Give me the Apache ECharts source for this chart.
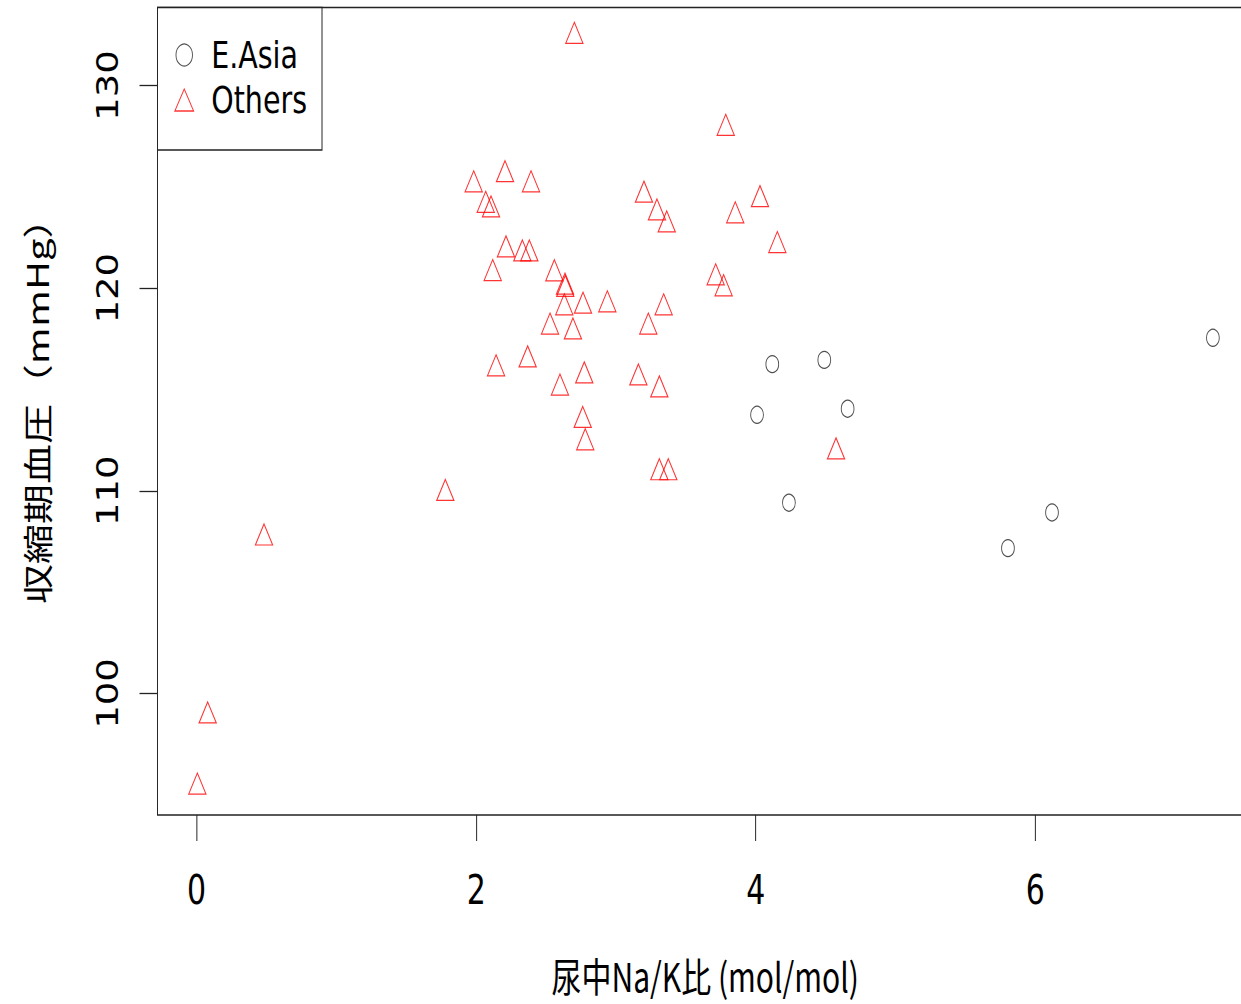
<!DOCTYPE html>
<html>
<head>
<meta charset="utf-8">
<script src="https://cdn.jsdelivr.net/npm/echarts@6/dist/echarts.min.js"></script>
<style>
html, body { margin: 0; padding: 0; overflow: hidden; background: #fff; }
/* 元の図は横に約0.75倍に縮んでいるので、広く描いてから縮める。右端は窓の外に出る */
#chart { width: 1680px; height: 1004px; transform: scaleX(0.75); transform-origin: 0 0; }
</style>
</head>
<body>
<div id="chart"></div>
<script>
// 東アジア (○)
var eAsiaX = [4.118, 4.490, 4.009, 4.657, 4.237, 5.804, 6.119, 7.270];
var eAsiaY = [116.25, 116.46, 113.75, 114.05, 109.41, 107.17, 108.93, 117.55];

// その他 (△)
var othersX = [2.702, 3.785, 1.982, 2.206, 2.392, 2.068, 2.106, 3.200, 3.293, 3.363,
               4.030, 3.853, 4.154, 2.213, 2.330, 2.380, 2.118, 2.559, 2.635, 2.637,
               3.713, 3.770, 2.764, 2.938, 2.630, 3.341, 2.528, 2.692, 3.231, 2.142,
               2.368, 2.773, 2.599, 3.160, 3.310, 2.762, 2.780, 3.310, 3.374, 4.574,
               1.779, 0.482, 0.079, 0.005];
var othersY = [132.43, 127.89, 125.10, 125.60, 125.10, 124.09, 123.86, 124.59, 123.71, 123.12,
               124.37, 123.57, 122.10, 121.89, 121.69, 121.69, 120.72, 120.71, 120.05, 119.94,
               120.51, 119.97, 119.11, 119.18, 119.03, 119.03, 118.08, 117.84, 118.08, 116.02,
               116.46, 115.67, 115.07, 115.57, 114.98, 113.47, 112.37, 110.89, 110.89, 111.92,
               109.87, 107.67, 98.89, 95.38];

// 目盛り
var xTicks = [0, 2, 4, 6];
var yTicks = [100, 110, 120, 130];

var latinFont = "'DejaVu Sans', sans-serif";
var narrowFont = "'DejaVu Sans Condensed', 'DejaVu Sans', sans-serif";
var cjkFont = "'Noto Sans CJK JP', sans-serif";

function pairs(xs, ys) {
    return xs.map(function (x, i) { return [x, ys[i]]; });
}

var chart = echarts.init(document.getElementById('chart'), null, { renderer: 'svg' });

var option = {
    backgroundColor: '#fff',
    animation: false,
    grid: {
        left: 210,
        top: 7.5,
        right: 9.5,
        bottom: 189,
        outerBoundsMode: 'none',
        show: true,
        borderColor: '#222',
        borderWidth: 1.3,
        backgroundColor: 'transparent'
    },
    legend: {
        orient: 'vertical',
        left: 210,
        top: 7.5,
        padding: [25, 20, 27.5, 22.5],
        itemGap: 0,
        itemWidth: 25,
        itemHeight: 22,
        borderColor: '#222',
        borderWidth: 1.3,
        backgroundColor: '#fff',
        selectedMode: false,
        textStyle: {
            fontFamily: latinFont,
            fontSize: 38,
            color: '#000',
            lineHeight: 45,
            padding: [0, 0, 0, 18.5]
        },
        data: [
            { name: 'E.Asia', icon: 'circle',
              itemStyle: { color: 'rgba(0,0,0,0)', borderColor: '#222', borderWidth: 1.2 } },
            { name: 'Others', icon: 'triangle',
              itemStyle: { color: 'rgba(0,0,0,0)', borderColor: '#ff0000', borderWidth: 1.3 } }
        ]
    },
    xAxis: {
        type: 'value',
        min: -0.28,
        max: 7.556,
        splitLine: { show: false },
        axisLine: { show: false, onZero: false },
        axisTick: {
            show: true,
            length: 26,
            customValues: xTicks,
            lineStyle: { color: '#222', width: 1.3 }
        },
        axisLabel: {
            customValues: xTicks,
            margin: 75,
            verticalAlign: 'middle',
            fontFamily: latinFont,
            fontSize: 40,
            color: '#000'
        },
        name: '尿中Na/K比 (mol/mol)',
        nameLocation: 'middle',
        nameGap: 159,
        nameTextStyle: {
            fontFamily: cjkFont,
            fontSize: 40,
            lineHeight: 40,
            color: '#000',
            verticalAlign: 'middle'
        }
    },
    yAxis: {
        type: 'value',
        min: 94.0,
        max: 133.85,
        splitLine: { show: false },
        axisLine: { show: false, onZero: false },
        axisTick: {
            show: true,
            length: 24,
            customValues: yTicks,
            lineStyle: { color: '#222', width: 1.3 }
        },
        axisLabel: {
            customValues: yTicks,
            rotate: 90,
            margin: 67,
            align: 'center',
            verticalAlign: 'middle',
            fontFamily: narrowFont,
            fontSize: 41,
            color: '#000'
        },
        name: '収縮期血圧（mmHg）',
        nameLocation: 'middle',
        nameGap: 162,
        nameRotate: 90,
        nameTextStyle: {
            fontFamily: cjkFont,
            fontSize: 40,
            color: '#000',
            verticalAlign: 'middle',
            // 全角括弧の余白ぶん上へ寄せる
            padding: [0, 0, 0, 20]
        }
    },
    series: [
        {
            name: 'E.Asia',
            type: 'scatter',
            symbol: 'circle',
            symbolSize: 17,
            data: pairs(eAsiaX, eAsiaY),
            itemStyle: { color: 'rgba(0,0,0,0)', borderColor: '#222', borderWidth: 1.2 },
            emphasis: { disabled: true }
        },
        {
            name: 'Others',
            type: 'scatter',
            symbol: 'triangle',
            symbolSize: [23, 21],
            // Rの△は重心が点の位置なので少し上にずらす
            symbolOffset: [0, -3.5],
            data: pairs(othersX, othersY),
            itemStyle: { color: 'rgba(0,0,0,0)', borderColor: '#ff0000', borderWidth: 1.3 },
            emphasis: { disabled: true }
        }
    ]
};

chart.setOption(option);
</script>
</body>
</html>
